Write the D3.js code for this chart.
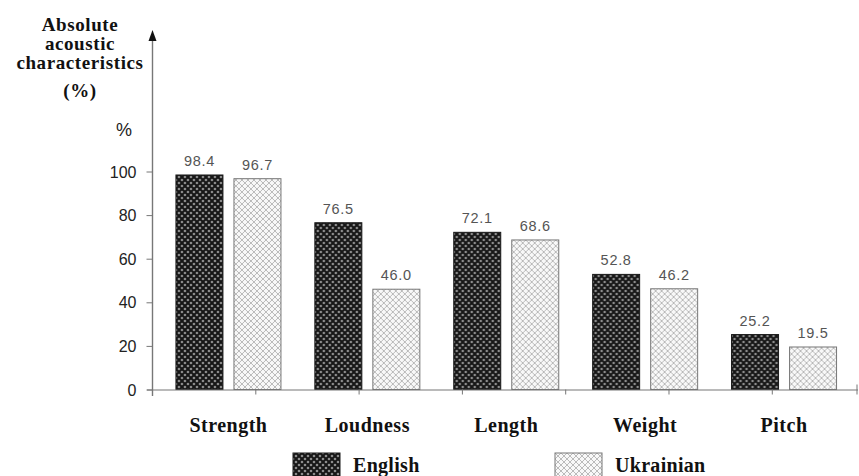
<!DOCTYPE html>
<html>
<head>
<meta charset="utf-8">
<script src="https://cdn.jsdelivr.net/npm/d3@7"></script>
<style>
  html, body { margin: 0; padding: 0; background: #fff; }
  svg { display: block; }
</style>
</head>
<body>
<svg id="chart" width="859" height="476"></svg>
<script>
const categories = ["Strength", "Loudness", "Length", "Weight", "Pitch"];
const seriesNames = ["English", "Ukrainian"];
const english = [98.4, 76.5, 72.1, 52.8, 25.2];
const ukrainian = [96.7, 46.0, 68.6, 46.2, 19.5];
const yTicks = [0, 20, 40, 60, 80, 100];
const titleLines = ["Absolute", "acoustic", "characteristics", "(%)"];

const svg = d3.select("#chart");
const defs = svg.append("defs");

// English pattern: dark with light dot grid
const pE = defs.append("pattern").attr("id", "pE").attr("patternUnits", "userSpaceOnUse")
  .attr("width", 6).attr("height", 6);
pE.append("rect").attr("width", 6).attr("height", 6).attr("fill", "#161616");
[[0,0],[6,0],[0,6],[6,6],[3,3]].forEach(([x,y]) =>
  pE.append("circle").attr("cx", x).attr("cy", y).attr("r", 1.3).attr("fill", "#8c8c8c"));

// Ukrainian pattern: light crosshatch
const pU = defs.append("pattern").attr("id", "pU").attr("patternUnits", "userSpaceOnUse")
  .attr("width", 6).attr("height", 6);
pU.append("rect").attr("width", 6).attr("height", 6).attr("fill", "#f8f8f8");
pU.append("path").attr("d", "M0,0L6,6M6,0L0,6").attr("stroke", "#aaa").attr("stroke-width", 0.8);

const fills = { English: "url(#pE)", Ukrainian: "url(#pU)" };
const strokes = { English: "#1a1a1a", Ukrainian: "#777" };

const axisX = 152.5;
const y = d3.scaleLinear().domain([0, 100]).range([389.5, 171.5]);
const x0 = d3.scaleBand().domain(categories).range([159, 853.5])
  .paddingInner(0.244).paddingOuter(0.122);
const x1 = d3.scaleBand().domain(seriesNames).range([0, x0.bandwidth()]).paddingInner(0.19);

const data = categories.map((c, i) => ({ cat: c, values: [
  { s: "English", v: english[i] }, { s: "Ukrainian", v: ukrainian[i] }] }));

// bars
const groups = svg.append("g").selectAll("g").data(data).join("g")
  .attr("transform", d => `translate(${x0(d.cat)},0)`);
groups.selectAll("rect").data(d => d.values).join("rect")
  .attr("x", d => x1(d.s)).attr("y", d => y(d.v))
  .attr("width", x1.bandwidth()).attr("height", d => y(0) - y(d.v))
  .attr("fill", d => fills[d.s]).attr("stroke", d => strokes[d.s]).attr("stroke-width", 1);
groups.selectAll("text").data(d => d.values).join("text")
  .attr("x", d => x1(d.s) + x1.bandwidth() / 2).attr("y", d => y(d.v) - 9)
  .attr("text-anchor", "middle")
  .attr("font-family", "Arial, 'Liberation Sans', sans-serif").attr("font-size", 14.5)
  .attr("letter-spacing", 0.7).attr("fill", "#555")
  .text(d => d.v.toFixed(1));

// x axis line
const axisColor = "#777";
svg.append("line").attr("x1", 147).attr("x2", 858).attr("y1", y(0) + 0.5).attr("y2", y(0) + 0.5)
  .attr("stroke", axisColor).attr("stroke-width", 1.2);
// x minor ticks (as in the source image)
const tickScale = d3.scaleLinear().domain([0, 6.82]).range([axisX, 857]);
svg.append("g").selectAll("line").data(d3.range(1, 7).concat([6.82])).join("line")
  .attr("x1", d => tickScale(d)).attr("x2", d => tickScale(d))
  .attr("y1", d => d === 6.82 ? y(0) - 5 : y(0)).attr("y2", y(0) + 5)
  .attr("stroke", axisColor).attr("stroke-width", 1);

// y axis
svg.append("line").attr("x1", axisX).attr("x2", axisX).attr("y1", 38).attr("y2", 396)
  .attr("stroke", axisColor).attr("stroke-width", 1.4);
svg.append("path").attr("d", `M${axisX},30L${axisX - 4},41L${axisX + 4},41Z`).attr("fill", "#111");
const yAxis = d3.axisLeft(y).tickValues(yTicks).tickSize(6).tickPadding(10).tickFormat(d3.format("d"));
const ya = svg.append("g").attr("transform", `translate(${axisX},0)`).call(yAxis);
ya.select(".domain").remove();
ya.selectAll(".tick line").attr("stroke", axisColor);
ya.selectAll(".tick text").attr("font-family", "Arial, 'Liberation Sans', sans-serif")
  .attr("font-size", 16).attr("fill", "#222").attr("dy", "0.35em");

// % label
svg.append("text").attr("x", 124).attr("y", 136).attr("text-anchor", "middle")
  .attr("font-family", "Arial, 'Liberation Sans', sans-serif").attr("font-size", 18).attr("fill", "#222")
  .text("%");

// title
svg.append("g").selectAll("text").data(titleLines).join("text")
  .attr("x", 80).attr("y", (d, i) => i < 3 ? 31 + i * 19 : 97)
  .attr("text-anchor", "middle")
  .attr("font-family", "'Liberation Serif', 'Times New Roman', serif").attr("font-weight", "bold")
  .attr("font-size", 19).attr("letter-spacing", 0.6).attr("fill", "#111")
  .text(d => d);

// category labels
svg.append("g").selectAll("text").data(categories).join("text")
  .attr("x", d => x0(d) + x0.bandwidth() / 2).attr("y", 432)
  .attr("text-anchor", "middle")
  .attr("font-family", "'Liberation Serif', 'Times New Roman', serif").attr("font-weight", "bold")
  .attr("font-size", 20).attr("letter-spacing", 0.5).attr("fill", "#111")
  .text(d => d);

// legend
const legendPos = [{ s: "English", x: 293 }, { s: "Ukrainian", x: 555 }];
const lg = svg.append("g").selectAll("g").data(legendPos).join("g")
  .attr("transform", d => `translate(${d.x},453)`);
lg.append("rect").attr("width", 47).attr("height", 24)
  .attr("fill", d => fills[d.s]).attr("stroke", d => strokes[d.s]);
lg.append("text").attr("x", 60).attr("y", 19)
  .attr("font-family", "'Liberation Serif', 'Times New Roman', serif").attr("font-weight", "bold")
  .attr("font-size", 20).attr("letter-spacing", 0.3).attr("fill", "#111")
  .text(d => d.s);
</script>
</body>
</html>
